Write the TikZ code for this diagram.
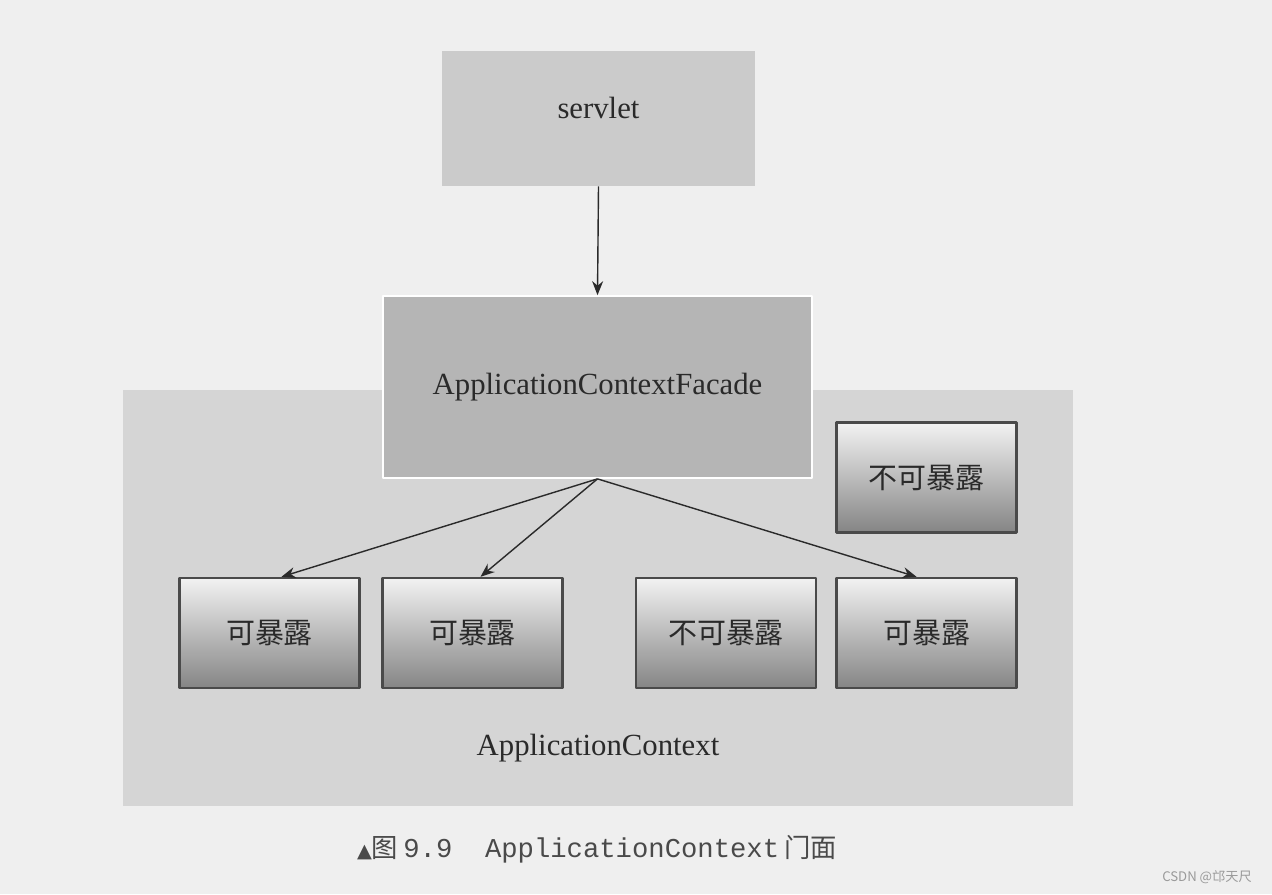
\documentclass[tikz,border=0pt]{standalone}
\usepackage{fontspec}
\setmainfont{Liberation Serif}
\newfontfamily\cjk{Noto Sans CJK SC}
\newfontfamily\capmono{Liberation Mono}
\newfontfamily\symb{DejaVu Sans}
\usetikzlibrary{arrows.meta}
\definecolor{pagebg}{HTML}{EFEFEF}
\definecolor{servletc}{HTML}{CBCBCB}
\definecolor{ctxc}{HTML}{D5D5D5}
\definecolor{facadec}{HTML}{B5B5B5}
\definecolor{edgec}{HTML}{4A4A4A}
\definecolor{inkc}{HTML}{2A2A2A}
\definecolor{markc}{HTML}{9A9A9A}
\begin{document}
\begin{tikzpicture}[x=0.02cm, y=-0.02cm, line join=round, >={Stealth[length=2.8mm,width=2.2mm]}]
		\tikzset{
		plain/.style={inner sep=0pt, text=inkc, font=\fontsize{17.5}{20}\selectfont},
		slab/.style={plain, fill=#1},
		expo/.style={plain, draw=edgec, line width=1.4pt, top color=black!5, bottom color=black!48, minimum width=3.6cm, minimum height=2.2cm, font=\cjk\fontsize{16.5}{18}\selectfont},
		link/.style={->, draw=inkc, line width=0.8pt}
		}
		\fill[pagebg] (0,0) rectangle (1272,894);
		\useasboundingbox (0,0) rectangle (1272,894);
		\node[slab=servletc, text depth=0.44cm, minimum width=6.26cm, minimum height=2.7cm] (servlet) at (598.5,118.5) {servlet};
		\node[slab=ctxc, minimum width=19cm, minimum height=8.32cm] (ctx) at (598,598) {};
		\node[plain] (ctxname) at (598,748) {ApplicationContext};
		\node[slab=facadec, draw=white, line width=1pt, minimum width=8.58cm, minimum height=3.64cm] (facade) at (597.5,387) {ApplicationContextFacade};
		\node[expo] (expA) at (269.5,633) {可暴露};
		\node[expo] (expB) at (472.5,633) {可暴露};
		\node[expo] (hidA) at (726,633) {不可暴露};
		\node[expo] (expC) at (926.5,633) {可暴露};
		\node[expo] (hidB) at (926.5,477.5) {不可暴露};
		\draw[link] (servlet.south) -- (facade.north);
		\draw[link] (facade.south) -- ([xshift=0.24cm]expA.north);
		\draw[link] (facade.south) -- ([xshift=0.16cm]expB.north);
		\draw[link] (facade.south) -- ([xshift=-0.2cm]expC.north);
		\node[text=inkc!85] (caption) at (597,849) {{\symb\fontsize{11}{12}\selectfont ▲}{\cjk\fontsize{15}{18}\selectfont 图}\hspace{0.1cm}{\capmono\fontsize{15.5}{18}\selectfont 9.9\ \ ApplicationContext}\hspace{0.1cm}{\cjk\fontsize{15}{18}\selectfont 门面}};
		\node[text=markc, font=\cjk\fontsize{7.5}{9}\selectfont] (mark) at (1207,877) {CSDN @邙天尺};
	\end{tikzpicture}
\end{document}
